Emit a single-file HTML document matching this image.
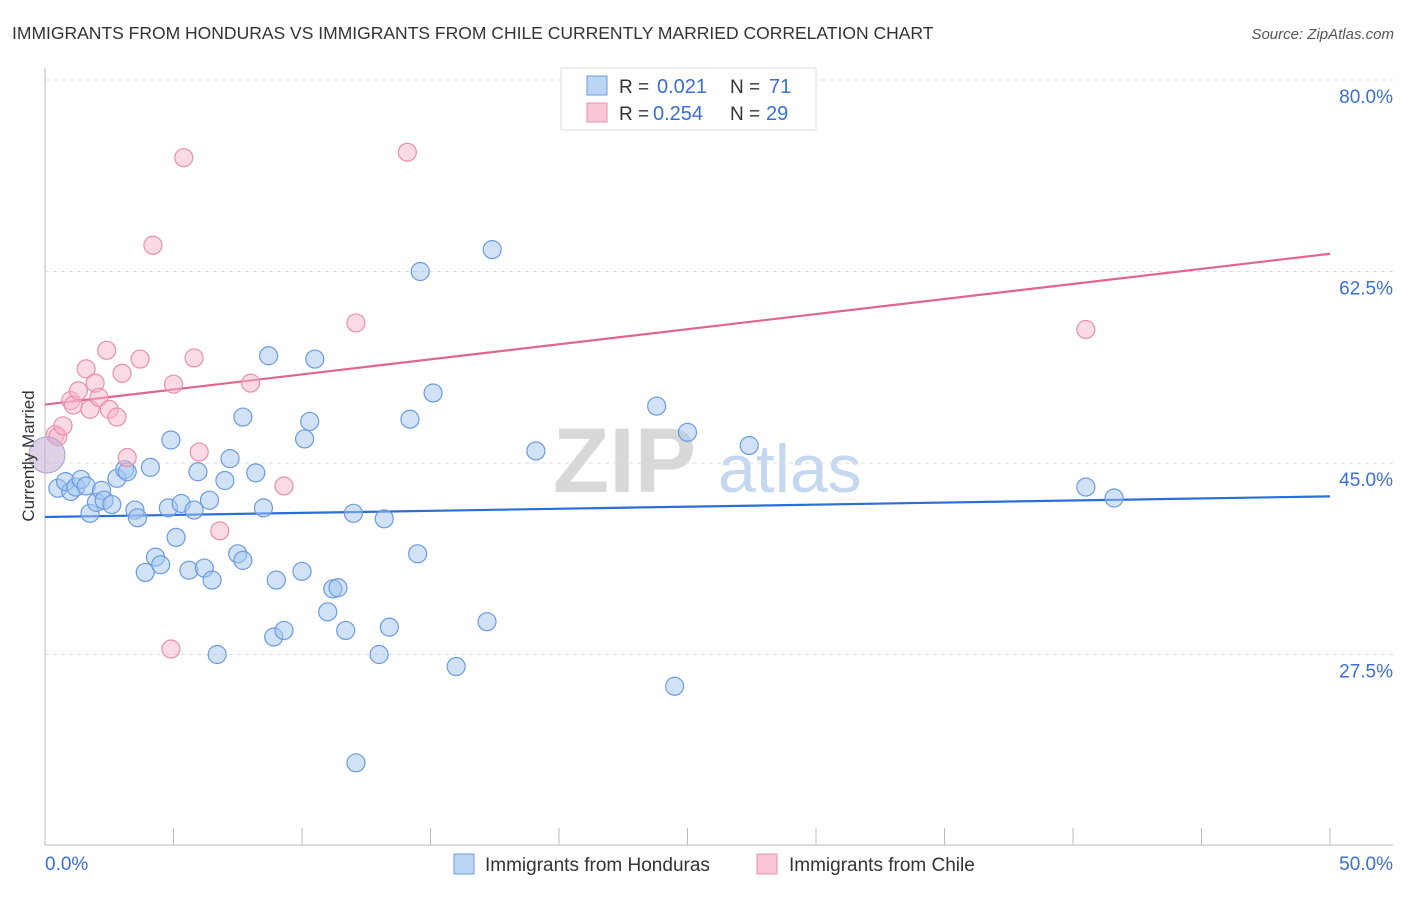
<!DOCTYPE html>
<html><head><meta charset="utf-8"><style>
body{margin:0;background:#fff;font-family:"Liberation Sans",sans-serif;}
svg text{font-family:"Liberation Sans",sans-serif;}
</style></head><body>
<svg id="chart" width="1406" height="892" xmlns="http://www.w3.org/2000/svg">
<text x="12" y="39" font-size="17.5" fill="#333">IMMIGRANTS FROM HONDURAS VS IMMIGRANTS FROM CHILE CURRENTLY MARRIED CORRELATION CHART</text>
<text x="1394" y="39" font-size="15" fill="#555" text-anchor="end" font-style="italic">Source: ZipAtlas.com</text>
<g>
<text x="553" y="492" font-size="92" fill="#d8d8d8" font-family="Liberation Serif" font-weight="bold">ZIP</text>
<text x="718" y="492" font-size="68" fill="#c5d8f0">atlas</text>
</g>
<g id="grid"></g>
<g id="axes"></g>
<g id="lines"></g>
<g id="pts"></g>
<text transform="translate(34,456) rotate(-90)" font-size="17" fill="#333" text-anchor="middle">Currently Married</text>
<g>
<rect x="561" y="68" width="255" height="62" fill="#fff" stroke="#ddd"/>
<rect x="587" y="76" width="20" height="19" fill="#bcd5f5" stroke="#6a9be0"/>
<rect x="587" y="103" width="20" height="19" fill="#f8c6d5" stroke="#e890aa"/>
<text x="619" y="93" font-size="19" fill="#333">R =</text>
<text x="657" y="93" font-size="20" fill="#3b6fd6">0.021</text>
<text x="730" y="93" font-size="19" fill="#333">N =</text>
<text x="769" y="93" font-size="20" fill="#3b6fd6">71</text>
<text x="619" y="120" font-size="19" fill="#333">R =</text>
<text x="653" y="120" font-size="20" fill="#3b6fd6">0.254</text>
<text x="730" y="120" font-size="19" fill="#333">N =</text>
<text x="766" y="120" font-size="20" fill="#3b6fd6">29</text>
</g>
<g>
<rect x="454" y="854" width="20" height="20" fill="#bcd5f5" stroke="#6a9be0"/>
<text x="485" y="871" font-size="19" fill="#333">Immigrants from Honduras</text>
<rect x="757" y="854" width="20" height="20" fill="#f8c6d5" stroke="#e890aa"/>
<text x="789" y="871" font-size="19" fill="#333">Immigrants from Chile</text>
</g>
</svg>
<script>
const xTickLabels=["0.0%","50.0%"];
const yTicks=[27.5,45,62.5,80];
const blueX=[0.5,1.0,0.8,1.2,1.4,1.6,1.75,2.0,2.2,2.3,2.6,2.8,3.1,3.2,3.5,3.6,3.9,4.1,4.3,4.5,4.8,4.9,5.1,5.3,5.6,5.8,5.95,6.2,6.4,6.5,6.7,7.0,7.2,7.5,7.7,7.7,8.2,8.5,8.7,8.9,9.0,9.3,10.0,10.1,10.3,10.5,11.0,11.2,11.4,11.7,12.0,12.1,13.0,13.2,13.4,14.2,14.5,14.6,15.1,16.0,17.2,17.4,19.1,23.8,24.5,25.0,27.4,40.5,41.6];
const blueY=[42.7,42.4,43.3,42.8,43.5,42.9,40.4,41.4,42.5,41.6,41.2,43.6,44.4,44.2,40.7,40.0,35.0,44.6,36.4,35.7,40.9,47.1,38.2,41.3,35.2,40.7,44.2,35.4,41.6,34.3,27.5,43.4,45.4,36.7,49.2,36.1,44.1,40.9,54.8,29.1,34.3,29.7,35.1,47.2,48.8,54.5,31.4,33.5,33.6,29.7,40.4,17.6,27.5,39.9,30.0,49.0,36.7,62.5,51.4,26.4,30.5,64.5,46.1,50.2,24.6,47.8,46.6,42.8,41.8];
const pinkX=[0.4,0.5,0.7,1.0,1.1,1.3,1.6,1.75,1.95,2.1,2.4,2.5,2.8,3.0,3.2,3.7,4.2,4.9,5.0,5.4,5.8,6.0,6.8,8.0,9.3,12.1,14.1,40.5];
const pinkY=[47.6,47.4,48.4,50.7,50.3,51.6,53.6,49.9,52.3,51.0,55.3,49.9,49.2,53.2,45.5,54.5,64.9,28.0,52.2,72.9,54.6,46.0,38.8,52.3,42.9,57.8,73.4,57.2];
const NS="http://www.w3.org/2000/svg";
const X0=45,X1=1330,Y80=80,PX=(463-80)/35;
function sx(v){return X0+(v/50)*(X1-X0);}
function sy(v){return Y80+(80-v)*PX;}
function mk(tag,attrs,parent){const e=document.createElementNS(NS,tag);for(const k in attrs)e.setAttribute(k,attrs[k]);parent.appendChild(e);return e;}
const grid=document.getElementById('grid'),axes=document.getElementById('axes'),lines=document.getElementById('lines'),pts=document.getElementById('pts');
yTicks.forEach(t=>{
 const l=mk('line',{x1:45,x2:1393,y1:sy(t),y2:sy(t),stroke:'#ddd','stroke-dasharray':'4,4'},grid);
 
 
 const tx=mk('text',{x:1393,y:sy(t)+23,'font-size':19,fill:'#3b6fd6','text-anchor':'end'},axes);
 tx.textContent=t.toFixed(1)+'%';
 
 
});
mk('line',{x1:45,x2:45,y1:68,y2:845,stroke:'#bbb'},axes);
mk('line',{x1:45,x2:1393,y1:845,y2:845,stroke:'#bbb'},axes);
for(let i=0;i<=10;i++){const t=mk('line',{x1:sx(i*5),x2:sx(i*5),y1:828,y2:845,stroke:'#bbb'},axes);
 
 }
const xl0=mk('text',{x:45,y:870,'font-size':19,fill:'#3b6fd6'},axes);xl0.textContent=xTickLabels[0];


const xl1=mk('text',{x:1393,y:870,'font-size':19,fill:'#3b6fd6','text-anchor':'end'},axes);xl1.textContent=xTickLabels[1];


function fit(xs,ys){const n=xs.length;let mx=0,my=0;for(let i=0;i<n;i++){mx+=xs[i];my+=ys[i];}mx/=n;my/=n;let a=0,b=0;for(let i=0;i<n;i++){a+=(xs[i]-mx)*(ys[i]-my);b+=(xs[i]-mx)**2;}const s=a/b;return[my-s*mx,s];}
function drawSeries(xs,ys,fill,stroke,lc,name){
 xs.forEach((x,i)=>{const c=mk('circle',{cx:sx(x),cy:sy(ys[i]),r:9,fill:fill,stroke:stroke,'stroke-width':1.2},pts);
  
  });
 const [b,s]=fit(xs,ys);
 const l=mk('line',{x1:sx(0),y1:sy(b),x2:sx(50),y2:sy(b+s*50),stroke:lc,'stroke-width':2.2},lines);
 
 
}
drawSeries(blueX,blueY,'rgba(164,198,240,0.5)','#6a9be0','#2a6fd6','honduras');
drawSeries(pinkX,pinkY,'rgba(246,182,202,0.5)','#e890aa','#e06690','chile');
const big=mk('circle',{cx:47,cy:455,r:18,fill:'rgba(200,180,215,0.6)',stroke:'#a9a0d0'},pts);


</script>
</body></html>
